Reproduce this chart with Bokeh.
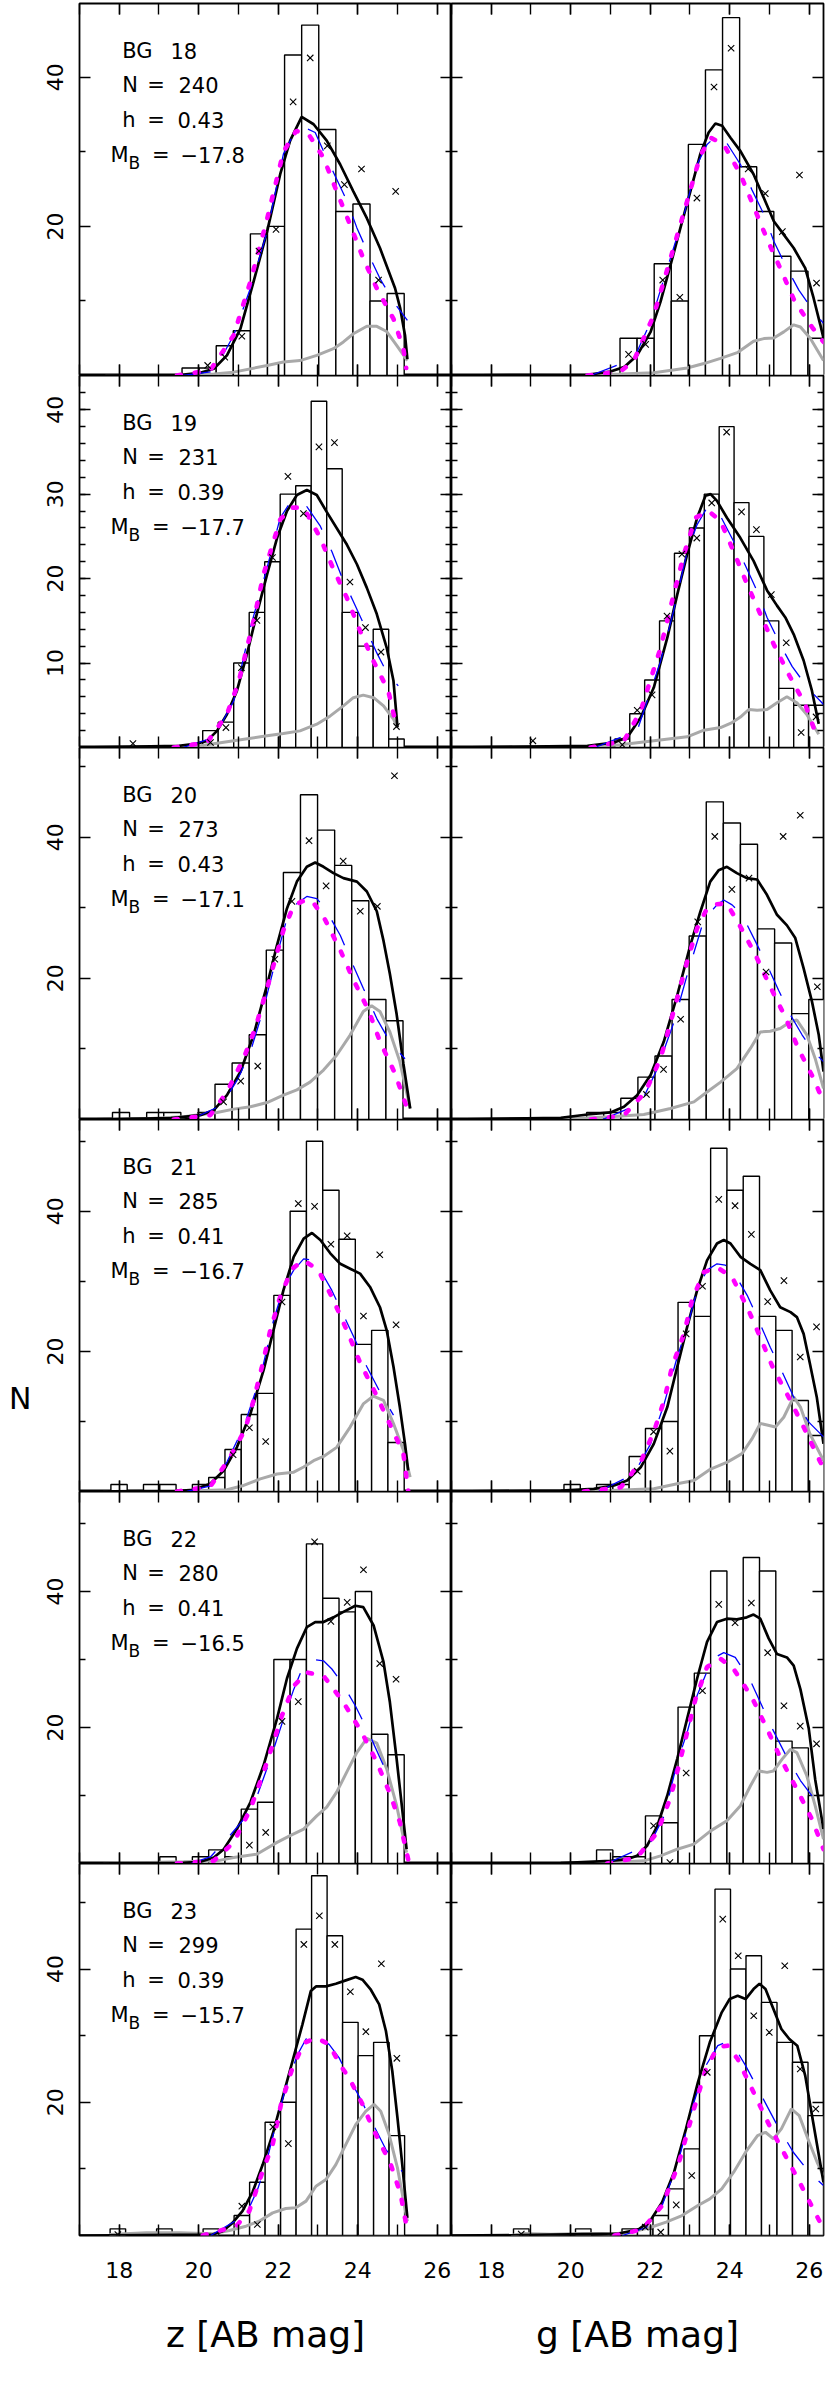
from bokeh.plotting import figure
from bokeh.layouts import column, row
from bokeh.models import Range1d, FixedTicker, LinearAxis, Label
from bokeh.embed import file_html
from bokeh.resources import INLINE

FONT = "DejaVu Sans"

# ---------------- data ----------------
galaxy = ["18", "19", "20", "21", "22", "23"]
n_obj = ["240", "231", "273", "285", "280", "299"]
h_bin = ["0.43", "0.39", "0.43", "0.41", "0.41", "0.39"]
mag_b = ["\u221217.8", "\u221217.7", "\u221217.1", "\u221216.7", "\u221216.5", "\u221215.7"]
y_max = [49.9, 44.05, 52.7, 53.1, 54.7, 55.85]
y_major = [[20, 40], [10, 20, 30, 40], [20, 40], [20, 40], [20, 40], [20, 40]]
y_minor = [[10, 30], list(range(2, 44, 2)), [10, 30, 50], [10, 30, 50], [10, 30, 50], [10, 30, 50]]
x_range = (17.0, 26.36)
x_major = [18, 20, 22, 24, 26]
x_minor = [17, 18, 19, 20, 21, 22, 23, 24, 25, 26]
x_titles = ["z [AB mag]", "g [AB mag]"]
y_title = "N"
y_title_pos = 13.3   # in counts of the 4th row

# ---- BG 18 ----
z18_start, z18_width = 19.58, 0.43
z18_counts = [1, 1, 4, 6, 19, 20, 43, 47, 33, 22, 23, 10, 11]
z18_cross = [None, 1.35, 2.47, 5.26, 16.7, 19.6, 36.7, 42.6, 30.8, 25.6, 27.7, 12.8, 24.7]
z18_total = [(17.0, 0), (19.5, 0.05), (20.04, 0.36), (20.38, 0.9), (20.71, 2.7), (21.05, 6.3), (21.38, 12.6), (21.72, 19.3), (22.05, 27.0), (22.3, 31.5), (22.59, 34.7), (22.89, 33.7), (23.22, 31.5), (23.56, 28.3), (23.89, 24.7), (24.23, 21.1), (24.56, 17.1), (24.94, 11.7), (25.07, 9.0), (25.19, 5.4), (25.25, 2.2)]
z18_model = [(19.6, 0), (20.38, 0.54), (20.88, 5.4), (21.3, 11.7), (21.72, 19.3), (22.13, 29.7), (22.39, 32.4), (22.65, 33.3), (22.93, 32.6), (23.14, 30.1), (23.43, 26.8), (23.73, 23.4), (23.98, 19.8), (24.27, 16.3), (24.56, 13.0), (24.94, 9.6), (25.25, 7.4)]
z18_fit = [(19.45, 0), (20.29, 0.7), (20.88, 5.4), (21.3, 12.6), (21.72, 21.0), (22.13, 30.0), (22.45, 32.8), (22.76, 32.4), (23.14, 29.2), (23.47, 24.7), (23.81, 20.2), (24.14, 15.7), (24.48, 11.7), (24.9, 7.6), (25.15, 3.6), (25.22, 1.0)]
z18_bg = [(17.65, 0), (19.7, 0), (20.38, 0.2), (20.88, 0.45), (21.72, 1.35), (22.13, 1.8), (22.55, 2.0), (22.97, 2.7), (23.39, 3.6), (23.64, 4.5), (23.89, 5.6), (24.23, 6.6), (24.48, 6.6), (24.73, 5.9), (24.98, 4.05), (25.25, 2.0)]

g18_start, g18_width = 21.24, 0.43
g18_counts = [5, 5, 15, 10, 31, 41, 48, 28, 22, 16, 14, 5]
g18_cross = [2.83, 4.18, 12.8, 10.5, 23.8, 38.7, 43.9, 27.7, 24.4, 19.3, 26.9, 12.4]
g18_total = [(17.0, 0), (20.42, 0.09), (21.0, 0.54), (21.34, 1.12), (21.67, 2.7), (22.01, 5.85), (22.26, 9.9), (22.51, 14.8), (22.76, 19.8), (23.01, 24.7), (23.26, 29.7), (23.47, 32.6), (23.64, 33.8), (23.81, 33.5), (24.02, 31.9), (24.27, 30.1), (24.6, 27.0), (24.86, 23.8), (25.11, 20.7), (25.36, 18.9), (25.61, 17.1), (25.9, 14.4), (26.11, 10.4), (26.28, 6.8), (26.36, 5.0)]
g18_model = [(20.5, 0), (21.59, 2.25), (22.01, 7.2), (22.43, 14.4), (22.85, 21.6), (23.18, 28.3), (23.43, 31.0), (23.68, 32.2), (23.89, 31.5), (24.27, 28.3), (24.56, 24.9), (24.86, 21.6), (25.11, 18.0), (25.4, 14.8), (25.74, 11.45), (26.15, 8.3), (26.36, 7.0)]
g18_fit = [(20.42, 0), (21.25, 0.54), (21.59, 2.0), (22.09, 8.1), (22.51, 15.7), (22.93, 23.4), (23.26, 29.5), (23.52, 31.9), (23.85, 31.0), (24.27, 27.0), (24.6, 22.7), (24.94, 18.3), (25.27, 14.4), (25.63, 10.0), (26.07, 6.5), (26.36, 4.5)]
g18_bg = [(18.7, 0), (20.42, 0.1), (21.25, 0.2), (22.09, 0.36), (22.93, 1.0), (23.35, 1.6), (23.77, 2.3), (24.19, 3.06), (24.6, 4.6), (24.86, 4.95), (25.11, 5.04), (25.36, 5.85), (25.61, 6.8), (25.78, 6.5), (26.03, 4.95), (26.36, 2.0)]

# ---- BG 19 ----
z19_start, z19_width = 18.15, 0.39
z19_counts = [0, 0, 0, 0, 0, 2, 3, 10, 16, 22, 30, 31, 41, 33, 16, 12, 14, 1]
z19_cross = [0.47, None, None, None, None, 0.59, 2.36, 9.46, 15.05, 22.5, 32.1, 27.7, 35.6, 36.1, 19.6, 14.2, 11.3, 2.48]
z19_total = [(17.0, 0), (19.5, 0.2), (19.96, 0.47), (20.21, 0.79), (20.46, 1.97), (20.71, 3.94), (20.96, 6.7), (21.21, 11.0), (21.46, 15.8), (21.72, 20.5), (21.97, 24.8), (22.22, 28.0), (22.47, 29.9), (22.72, 30.5), (22.97, 29.9), (23.22, 27.9), (23.47, 26.0), (23.73, 24.0), (23.98, 21.7), (24.23, 18.9), (24.48, 15.8), (24.73, 11.8), (24.9, 7.9), (25.0, 2.4)]
z19_model = [(19.6, 0), (20.38, 1.18), (20.88, 5.5), (21.3, 14.2), (21.72, 21.3), (22.05, 27.2), (22.3, 29.0), (22.55, 29.2), (22.68, 28.8), (23.06, 26.2), (23.35, 23.2), (23.6, 20.2), (23.89, 17.3), (24.19, 14.2), (24.48, 11.2), (24.73, 8.9), (25.02, 7.3)]
z19_fit = [(19.37, 0), (20.21, 0.59), (20.71, 3.94), (21.0, 7.7), (21.38, 15.0), (21.63, 20.5), (22.05, 27.0), (22.34, 28.4), (22.64, 28.4), (23.06, 24.8), (23.39, 21.1), (23.73, 17.7), (24.06, 13.8), (24.4, 10.2), (24.77, 6.7), (24.96, 2.8)]
z19_bg = [(17.49, 0), (19.37, 0.08), (20.04, 0.2), (20.88, 0.79), (21.72, 1.38), (22.13, 1.65), (22.55, 1.97), (22.97, 2.76), (23.31, 3.74), (23.64, 4.93), (23.89, 5.9), (24.14, 6.2), (24.4, 5.9), (24.65, 4.93), (24.9, 3.35), (25.0, 2.36)]

g19_start, g19_width = 18.86, 0.375
g19_counts = [0, 0, 0, 0, 0, 0, 1, 4, 8, 15, 23, 26, 30, 38, 29, 25, 15, 7, 5, 5]
g19_cross = [0.79, None, None, None, None, None, 0.32, 4.41, 6.23, 15.56, 22.9, 24.8, 28.96, 37.35, 27.9, 25.8, 18.1, 12.4, 1.77, 3.62]
g19_total = [(17.0, 0), (20.42, 0.2), (21.09, 0.59), (21.42, 1.18), (21.76, 3.55), (22.09, 7.1), (22.43, 13.0), (22.68, 18.1), (22.93, 22.9), (23.18, 27.2), (23.39, 29.8), (23.52, 30.0), (23.68, 29.2), (23.93, 27.2), (24.27, 24.8), (24.6, 22.1), (24.94, 18.6), (25.19, 16.8), (25.4, 15.4), (25.61, 13.4), (25.86, 10.3), (26.07, 6.7), (26.24, 2.8)]
g19_model = [(20.6, 0), (21.67, 1.97), (22.26, 10.2), (22.59, 16.2), (22.93, 23.2), (23.18, 26.4), (23.43, 28.4), (23.6, 28.4), (23.77, 27.4), (24.1, 24.4), (24.4, 21.5), (24.69, 18.5), (24.94, 15.4), (25.27, 12.2), (25.57, 9.6), (25.99, 6.9), (26.28, 5.5), (26.36, 5.1)]
g19_fit = [(20.5, 0), (21.34, 0.79), (21.76, 4.33), (22.26, 11.8), (22.59, 18.1), (22.85, 22.9), (23.14, 27.2), (23.47, 28.0), (23.77, 26.8), (24.1, 23.2), (24.44, 19.3), (24.77, 15.8), (25.11, 12.2), (25.48, 8.7), (25.9, 5.1), (26.2, 1.2)]
g19_bg = [(18.53, 0.08), (20.42, 0.08), (21.25, 0.32), (22.09, 0.79), (22.93, 1.26), (23.35, 2.05), (23.77, 2.36), (24.06, 2.96), (24.27, 3.6), (24.48, 4.5), (24.69, 4.4), (24.94, 4.5), (25.19, 5.3), (25.44, 6.0), (25.69, 5.3), (25.94, 3.9), (26.24, 1.58)]

# ---- BG 20 ----
z20_start, z20_width = 17.83, 0.43
z20_counts = [1, 0, 1, 1, 0, 1, 5, 8, 12, 24, 35, 46, 41, 36, 31, 17, 14]
z20_cross = [None, None, None, None, None, None, 2.5, 5.44, 7.57, 22.7, 30.9, 39.5, 33.1, 36.6, 29.5, 30.2, 48.7]
z20_total = [(17.0, 0), (19.3, 0.2), (19.62, 0.38), (20.04, 0.61), (20.38, 1.32), (20.71, 3.45), (21.05, 6.76), (21.38, 11.96), (21.72, 19.06), (21.97, 24.7), (22.22, 29.9), (22.47, 33.7), (22.72, 35.8), (22.93, 36.4), (23.14, 35.8), (23.39, 34.9), (23.64, 34.2), (23.98, 33.7), (24.23, 32.3), (24.48, 29.5), (24.65, 25.3), (24.81, 20.6), (24.98, 14.9), (25.15, 7.9), (25.32, 1.56)]
z20_model = [(19.8, 0), (20.57, 2.0), (20.99, 5.8), (21.3, 9.6), (21.63, 15.7), (21.97, 23.3), (22.22, 28.5), (22.47, 30.6), (22.72, 31.6), (22.97, 31.3), (23.18, 29.9), (23.56, 26.1), (23.81, 22.8), (24.14, 18.6), (24.48, 14.3), (24.81, 11.0), (25.19, 8.6)]
z20_fit = [(19.37, 0), (20.29, 0.61), (20.71, 3.9), (21.13, 8.65), (21.42, 12.9), (21.67, 17.6), (21.93, 22.8), (22.13, 26.8), (22.39, 30.3), (22.6, 30.9), (22.85, 31.0), (23.18, 28.3), (23.56, 24.0), (23.89, 19.8), (24.27, 15.5), (24.56, 11.06), (24.94, 6.5), (25.23, 1.8)]
z20_bg = [(17.6, 0), (18.78, 0.14), (19.62, 0.38), (20.46, 0.99), (20.88, 1.47), (21.3, 1.8), (21.72, 2.4), (22.13, 3.45), (22.47, 4.2), (22.8, 5.3), (23.14, 7.0), (23.47, 9.1), (23.81, 11.96), (24.14, 15.3), (24.35, 16.1), (24.56, 15.3), (24.81, 12.4), (25.06, 8.2), (25.32, 1.56)]

g20_start, g20_width = 20.40, 0.43
g20_counts = [1, 1, 3, 6, 9, 17, 26, 45, 42, 39, 27, 25, 15, 17]
g20_cross = [None, None, None, 3.55, 7.1, 14.2, 28.0, 40.1, 32.6, 34.2, 20.9, 40.1, 43.1, 18.8]
g20_total = [(17.0, 0), (19.75, 0.24), (20.42, 0.71), (21.0, 1.0), (21.34, 1.8), (21.67, 3.45), (22.01, 6.3), (22.34, 11.0), (22.68, 17.6), (23.01, 24.7), (23.26, 29.4), (23.51, 33.7), (23.72, 35.3), (23.93, 35.8), (24.18, 34.9), (24.43, 34.2), (24.69, 34.0), (24.94, 31.8), (25.19, 29.0), (25.44, 27.5), (25.65, 25.7), (25.86, 21.4), (26.07, 16.7), (26.24, 12.0), (26.36, 6.8)]
g20_model = [(20.8, 0), (21.76, 2.27), (22.18, 7.2), (22.6, 13.85), (22.93, 20.5), (23.35, 28.3), (23.68, 30.4), (23.85, 31.1), (24.06, 30.4), (24.31, 29.0), (24.65, 25.2), (24.94, 21.9), (25.23, 18.3), (25.53, 14.8), (25.82, 12.0), (26.11, 9.6), (26.36, 8.2)]
g20_fit = [(20.51, 0), (21.34, 0.6), (21.88, 3.9), (22.26, 8.65), (22.68, 17.2), (22.93, 22.4), (23.18, 27.1), (23.43, 29.9), (23.68, 30.5), (23.93, 30.6), (24.27, 27.3), (24.65, 23.3), (25.02, 18.8), (25.4, 14.5), (25.73, 10.0), (26.11, 5.8), (26.36, 2.5)]
g20_bg = [(18.6, 0), (19.75, 0.05), (21.0, 0.38), (21.84, 0.71), (22.51, 1.56), (23.1, 2.5), (23.43, 3.9), (23.77, 5.3), (24.18, 7.2), (24.52, 10.07), (24.77, 12.4), (25.02, 12.5), (25.27, 12.9), (25.53, 13.85), (25.69, 14.1), (25.94, 12.0), (26.15, 8.65), (26.36, 4.4)]

# ---- BG 21 ----
z21_start, z21_width = 17.79, 0.41
z21_counts = [1, 0, 1, 1, 0, 1, 2, 6, 11, 14, 28, 40, 50, 43, 36, 21, 23, 7]
z21_cross = [None, None, None, None, None, None, None, 5.24, 9.1, 7.14, 27.05, 41.1, 40.7, 35.3, 36.5, 25.05, 33.8, 23.8]
z21_total = [(17.0, 0), (19.5, 0.1), (19.87, 0.24), (20.29, 1.1), (20.63, 3.0), (20.96, 6.3), (21.3, 11.1), (21.63, 17.3), (21.88, 23.0), (22.13, 28.7), (22.39, 33.5), (22.64, 36.1), (22.85, 36.9), (23.06, 35.9), (23.31, 34.0), (23.56, 32.5), (23.81, 31.8), (24.06, 31.1), (24.31, 29.2), (24.56, 26.3), (24.73, 23.0), (24.9, 17.8), (25.06, 12.05), (25.19, 6.8), (25.27, 3.0)]
z21_model = [(19.7, 0), (20.3, 0.8), (20.71, 4.2), (21.13, 9.2), (21.55, 16.3), (21.88, 24.4), (22.13, 29.0), (22.39, 31.6), (22.64, 33.2), (22.89, 33.0), (23.06, 31.6), (23.35, 28.7), (23.64, 25.2), (23.94, 21.6), (24.23, 17.8), (24.56, 14.2), (24.9, 10.9)]
z21_fit = [(19.45, 0), (20.29, 0.71), (20.79, 4.9), (21.17, 8.9), (21.38, 13.0), (21.59, 17.8), (21.8, 23.0), (22.05, 27.8), (22.35, 31.8), (22.64, 33.0), (23.01, 31.6), (23.39, 27.3), (23.73, 22.95), (24.06, 18.4), (24.44, 14.1), (24.81, 9.6), (25.15, 5.4), (25.27, 0.1)]
z21_bg = [(17.6, 0), (18.78, 0), (19.62, 0.05), (20.71, 0.24), (21.13, 0.86), (21.55, 1.8), (21.97, 2.5), (22.39, 2.76), (22.64, 3.5), (22.89, 4.4), (23.14, 5.0), (23.47, 6.3), (23.81, 9.2), (24.14, 12.5), (24.39, 13.6), (24.65, 13.0), (24.9, 9.7), (25.15, 5.9), (25.32, 2.05)]

g21_start, g21_width = 19.83, 0.41
g21_counts = [1, 0, 1, 1, 5, 9, 10, 27, 25, 49, 43, 45, 25, 23, 13, 8]
g21_cross = [None, None, None, None, 2.9, 8.52, 5.76, 22.5, 29.3, 41.7, 40.8, 36.7, 27.1, 30.1, 19.2, 23.5]
g21_total = [(17.0, 0), (19.75, 0.14), (20.58, 0.38), (21.09, 0.86), (21.42, 1.57), (21.76, 3.45), (22.09, 6.8), (22.43, 12.05), (22.68, 17.8), (22.93, 23.5), (23.18, 28.7), (23.43, 33.0), (23.68, 35.4), (23.85, 35.9), (24.02, 35.4), (24.27, 33.5), (24.52, 32.5), (24.77, 31.6), (25.02, 28.7), (25.27, 26.3), (25.53, 25.6), (25.69, 24.9), (25.86, 22.5), (26.02, 18.2), (26.19, 13.5), (26.36, 6.8)]
g21_model = [(20.7, 0), (21.59, 2.5), (22.01, 6.8), (22.35, 12.5), (22.68, 19.2), (22.93, 23.5), (23.18, 28.7), (23.43, 31.6), (23.68, 32.5), (23.89, 32.3), (24.1, 31.3), (24.44, 28.0), (24.73, 24.4), (25.02, 20.6), (25.32, 17.05), (25.65, 13.0), (25.99, 9.9), (26.36, 7.8)]
g21_fit = [(20.33, 0), (21.26, 0.6), (21.76, 4.2), (22.09, 8.5), (22.35, 13.0), (22.55, 17.8), (22.85, 22.5), (23.05, 27.3), (23.35, 31.3), (23.68, 32.0), (24.06, 30.6), (24.44, 26.3), (24.77, 22.0), (25.1, 17.5), (25.48, 13.5), (25.86, 9.2), (26.28, 4.2), (26.36, 3.5)]
g21_bg = [(18.6, 0), (19.75, 0), (21.0, 0.14), (22.09, 0.38), (22.68, 1.1), (23.1, 1.57), (23.52, 3.2), (23.94, 4.2), (24.31, 5.4), (24.56, 7.5), (24.77, 9.7), (24.94, 9.5), (25.15, 9.2), (25.36, 10.6), (25.61, 13.5), (25.78, 12.05), (26.02, 8.2), (26.36, 4.4)]

# ---- BG 22 ----
z22_start, z22_width = 19.02, 0.41
z22_counts = [1, 0, 1, 2, 1, 8, 9, 30, 30, 47, 39, 37, 40, 19, 16]
z22_cross = [None, None, None, None, None, 2.7, 4.57, 20.9, 23.8, 47.3, 35.6, 38.4, 43.2, 29.4, 27.1]
z22_total = [(17.0, 0), (19.6, 0.1), (20.04, 0.25), (20.38, 0.88), (20.63, 2.1), (20.96, 5.06), (21.3, 9.0), (21.63, 14.4), (21.97, 21.3), (22.22, 27.2), (22.47, 31.6), (22.72, 34.75), (22.93, 35.5), (23.14, 35.5), (23.39, 36.2), (23.64, 37.0), (23.94, 37.9), (24.14, 37.7), (24.4, 35.0), (24.65, 29.6), (24.81, 23.7), (24.98, 15.35), (25.11, 8.5), (25.23, 2.1)]
z22_model = [(19.8, 0), (20.3, 1.0), (20.71, 3.6), (21.13, 6.5), (21.46, 9.8), (21.8, 15.3), (22.13, 21.2), (22.39, 25.6), (22.6, 28.6), (22.89, 30.0), (23.14, 29.8), (23.35, 28.6), (23.6, 26.6), (23.94, 23.2), (24.27, 19.3), (24.65, 14.4), (24.96, 12.2)]
z22_fit = [(19.45, 0), (20.38, 0.4), (20.88, 3.1), (21.3, 8.0), (21.63, 13.4), (21.88, 17.8), (22.09, 21.7), (22.39, 26.1), (22.72, 28.1), (23.14, 27.6), (23.64, 23.7), (24.1, 19.3), (24.48, 14.9), (24.81, 10.3), (25.06, 6.1), (25.27, 0.6)]
z22_bg = [(17.6, 0), (18.78, 0.15), (19.62, 0.25), (20.46, 0.39), (20.88, 0.88), (21.46, 1.37), (21.97, 3.1), (22.3, 4.1), (22.64, 5.06), (22.97, 7.0), (23.22, 8.3), (23.47, 10.5), (23.73, 13.5), (23.98, 16.35), (24.23, 18.4), (24.48, 17.7), (24.73, 13.9), (24.98, 8.5), (25.23, 1.6)]

g22_start, g22_width = 20.65, 0.41
g22_counts = [2, 1, 1, 7, 6, 23, 28, 43, 36, 45, 43, 18, 17, 10]
g22_cross = [None, None, None, 5.55, 0.15, 13.3, 25.4, 38.1, 35.4, 38.3, 31.0, 23.2, 20.2, 17.6]
g22_total = [(17.0, 0), (19.75, 0.05), (21.0, 0.39), (21.42, 0.64), (21.67, 1.13), (21.92, 2.6), (22.18, 5.55), (22.43, 10.0), (22.68, 15.4), (22.93, 21.3), (23.18, 27.2), (23.43, 32.6), (23.68, 35.5), (23.93, 36.0), (24.18, 35.9), (24.43, 36.2), (24.6, 36.6), (24.77, 36.0), (24.98, 33.1), (25.19, 30.8), (25.44, 30.3), (25.61, 29.1), (25.78, 25.6), (25.99, 19.8), (26.15, 12.4), (26.36, 5.06)]
g22_model = [(20.9, 0), (21.99, 2.85), (22.35, 7.0), (22.68, 14.9), (22.93, 19.3), (23.18, 24.7), (23.56, 30.1), (23.85, 31.0), (24.14, 30.3), (24.52, 26.9), (24.81, 23.2), (25.1, 19.5), (25.44, 15.6), (25.78, 12.2), (26.19, 9.0), (26.36, 7.75)]
g22_fit = [(20.92, 0), (21.67, 0.88), (22.18, 4.6), (22.51, 9.7), (22.72, 14.4), (22.93, 19.3), (23.14, 24.2), (23.43, 28.9), (23.77, 30.1), (24.1, 28.6), (24.56, 24.4), (24.94, 19.8), (25.27, 15.6), (25.69, 10.9), (26.07, 6.5), (26.36, 2.1)]
g22_bg = [(18.6, 0), (19.75, 0), (21.0, 0.15), (21.84, 0.39), (22.26, 1.13), (22.68, 2.1), (23.1, 2.85), (23.52, 4.8), (23.93, 6.3), (24.27, 8.5), (24.52, 11.4), (24.73, 13.6), (24.94, 13.4), (25.1, 13.6), (25.32, 15.35), (25.53, 16.8), (25.69, 16.3), (25.94, 12.9), (26.15, 8.5), (26.36, 3.6)]

# ---- BG 23 ----
z23_start, z23_width = 17.77, 0.39
z23_counts = [1, 0, 0, 1, 0, 0, 1, 0, 3, 8, 17, 20, 46, 54, 45, 32, 27, 29, 15]
z23_cross = [0.15, None, None, None, None, None, None, None, 4.4, 1.65, 16.3, 13.8, 43.7, 48.0, 43.7, 36.6, 30.6, 40.8, 26.6]
z23_total = [(17.0, 0), (20.35, 0.15), (20.6, 0.65), (20.85, 1.9), (21.1, 3.65), (21.36, 6.6), (21.61, 10.65), (21.86, 15.2), (22.11, 20.7), (22.36, 26.2), (22.61, 31.7), (22.82, 36.7), (22.95, 37.4), (23.2, 37.4), (23.45, 37.8), (23.7, 38.3), (23.95, 38.8), (24.12, 38.4), (24.33, 36.9), (24.54, 34.7), (24.71, 30.7), (24.87, 24.7), (25.0, 17.7), (25.12, 10.7), (25.25, 2.65)]
z23_model = [(20.3, 0), (21.19, 3.15), (21.48, 6.9), (21.69, 10.65), (21.94, 16.7), (22.19, 22.2), (22.49, 27.2), (22.7, 29.5), (22.9, 30.2), (23.28, 28.7), (23.53, 26.7), (23.78, 23.7), (24.08, 20.4), (24.37, 16.9), (24.71, 12.9), (25.12, 9.6)]
z23_fit = [(20.1, 0), (20.94, 1.4), (21.27, 3.65), (21.61, 9.66), (21.86, 13.65), (22.07, 19.7), (22.36, 25.2), (22.65, 28.9), (22.95, 29.7), (23.28, 28.7), (23.57, 25.5), (23.78, 23.7), (24.12, 19.7), (24.37, 16.2), (24.58, 13.7), (24.83, 10.7), (25.08, 6.2), (25.25, 0.65)]
z23_bg = [(17.75, 0.15), (18.68, 0.4), (19.51, 0.4), (20.35, 0.25), (20.77, 0.75), (21.19, 1.4), (21.52, 2.15), (21.86, 3.4), (22.19, 4.05), (22.44, 4.15), (22.7, 5.16), (22.95, 7.4), (23.2, 8.4), (23.45, 10.65), (23.7, 13.65), (23.95, 16.65), (24.2, 18.65), (24.41, 19.7), (24.58, 18.65), (24.79, 15.15), (25.0, 10.15), (25.25, 2.15)]

g23_start, g23_width = 18.56, 0.39
g23_counts = [1, 0, 0, 0, 1, 0, 0, 1, 1, 3, 7, 13, 30, 52, 40, 42, 35, 29, 26, 18]
g23_cross = [0.2, None, None, None, None, None, None, None, 1.25, 0.5, 4.6, 9.0, 24.5, 47.5, 42.0, 33.0, 30.5, 40.5, 25.0, 19.0]
g23_total = [(17.0, 0), (18.75, 0.05), (21.2, 0.3), (21.7, 0.9), (22.0, 2.2), (22.3, 5.0), (22.6, 9.5), (22.9, 16.0), (23.2, 23.0), (23.5, 29.0), (23.8, 33.5), (24.0, 35.5), (24.2, 36.0), (24.4, 35.5), (24.6, 37.0), (24.75, 37.8), (24.9, 37.0), (25.1, 34.0), (25.3, 31.0), (25.5, 29.5), (25.7, 28.5), (25.9, 24.0), (26.1, 17.0), (26.36, 8.0)]
g23_model = [(21.3, 0), (21.9, 1.2), (22.3, 4.5), (22.7, 11.0), (23.1, 20.0), (23.4, 25.5), (23.7, 28.5), (23.9, 29.0), (24.1, 28.5), (24.4, 25.5), (24.8, 21.0), (25.2, 16.5), (25.6, 12.5), (26.0, 9.5), (26.36, 7.5)]
g23_fit = [(21.1, 0), (21.8, 0.9), (22.3, 4.5), (22.7, 10.5), (23.1, 19.0), (23.4, 25.0), (23.7, 28.3), (23.95, 28.5), (24.2, 26.5), (24.6, 21.5), (25.0, 16.5), (25.4, 12.0), (25.8, 7.5), (26.1, 4.0), (26.36, 1.0)]
g23_bg = [(18.5, 0), (18.8, 0.3), (19.5, 0.2), (20.3, 0.3), (21.0, 0.2), (21.5, 0.5), (22.0, 1.2), (22.4, 2.0), (22.8, 3.0), (23.2, 4.5), (23.5, 5.5), (23.8, 7.0), (24.1, 9.5), (24.4, 12.5), (24.7, 15.0), (24.9, 15.5), (25.1, 14.5), (25.3, 16.0), (25.55, 19.0), (25.75, 18.0), (26.0, 14.0), (26.2, 11.0), (26.36, 9.0)]

panels = [
    [(z18_start, z18_width, z18_counts, z18_cross, z18_total, z18_model, z18_fit, z18_bg),
     (g18_start, g18_width, g18_counts, g18_cross, g18_total, g18_model, g18_fit, g18_bg)],
    [(z19_start, z19_width, z19_counts, z19_cross, z19_total, z19_model, z19_fit, z19_bg),
     (g19_start, g19_width, g19_counts, g19_cross, g19_total, g19_model, g19_fit, g19_bg)],
    [(z20_start, z20_width, z20_counts, z20_cross, z20_total, z20_model, z20_fit, z20_bg),
     (g20_start, g20_width, g20_counts, g20_cross, g20_total, g20_model, g20_fit, g20_bg)],
    [(z21_start, z21_width, z21_counts, z21_cross, z21_total, z21_model, z21_fit, z21_bg),
     (g21_start, g21_width, g21_counts, g21_cross, g21_total, g21_model, g21_fit, g21_bg)],
    [(z22_start, z22_width, z22_counts, z22_cross, z22_total, z22_model, z22_fit, z22_bg),
     (g22_start, g22_width, g22_counts, g22_cross, g22_total, g22_model, g22_fit, g22_bg)],
    [(z23_start, z23_width, z23_counts, z23_cross, z23_total, z23_model, z23_fit, z23_bg),
     (g23_start, g23_width, g23_counts, g23_cross, g23_total, g23_model, g23_fit, g23_bg)],
]

# ---------------- layout constants ----------------
FW, FH = 372, 372
LEFT_BORDER = 79
TOP_BORDER = 3
BOTTOM_BORDER = 140


def style_axis(ax, show_labels, tick_len, minor_len):
    ax.axis_line_color = None
    ax.major_tick_in = tick_len
    ax.major_tick_out = 0
    ax.minor_tick_in = minor_len
    ax.minor_tick_out = 0
    ax.major_tick_line_color = "black"
    ax.minor_tick_line_color = "black"
    ax.major_tick_line_width = 1.4
    ax.minor_tick_line_width = 1.4
    if show_labels:
        ax.major_label_text_font = FONT
        ax.major_label_text_font_size = "22px"
        ax.major_label_text_color = "black"
    else:
        ax.major_label_text_font_size = "0px"
        ax.major_label_text_color = None
        ax.major_label_standoff = 0


def make_panel(r, c):
    start, width, counts, cross, total, model, fit, bg = panels[r][c]
    left = c == 0
    last = r == 5
    p = figure(frame_width=FW, frame_height=FH,
               x_range=Range1d(*x_range), y_range=Range1d(0, y_max[r]),
               x_axis_location=None, y_axis_location=None,
               min_border_left=LEFT_BORDER if left else 0,
               min_border_right=0 if left else 4,
               min_border_top=TOP_BORDER if r == 0 else 0,
               min_border_bottom=BOTTOM_BORDER if last else 0,
               output_backend="svg", toolbar_location=None,
               background_fill_color="white", border_fill_color="white")
    p.xgrid.grid_line_color = None
    p.ygrid.grid_line_color = None
    p.outline_line_color = "black"
    p.outline_line_width = 1.8

    # axes on all four sides, ticks inside
    for loc in ("below", "above"):
        ax = LinearAxis(ticker=FixedTicker(ticks=x_major, minor_ticks=x_minor))
        show = (loc == "below" and last)
        style_axis(ax, show, 11, 11)
        if show:
            ax.major_label_standoff = 26
            ax.axis_label = x_titles[c]
            ax.axis_label_text_font = FONT
            ax.axis_label_text_font_size = "36px"
            ax.axis_label_text_font_style = "normal"
            ax.axis_label_text_color = "black"
            ax.axis_label_standoff = 33
        p.add_layout(ax, loc)
    for loc in ("left", "right"):
        ay = LinearAxis(ticker=FixedTicker(ticks=y_major[r], minor_ticks=y_minor[r]))
        show = (loc == "left" and left)
        style_axis(ay, show, 11, 6)
        if show:
            ay.major_label_orientation = "vertical"
            ay.major_label_standoff = 16
        p.add_layout(ay, loc)
    if left and r == 3:
        # the shared "N" title, drawn as the single label of an extra outer axis
        an = LinearAxis(ticker=FixedTicker(ticks=[y_title_pos], minor_ticks=[]),
                        major_label_overrides={y_title_pos: y_title})
        an.axis_line_color = None
        an.major_tick_in = 0
        an.major_tick_out = 0
        an.minor_tick_in = 0
        an.minor_tick_out = 0
        an.major_label_text_font = FONT
        an.major_label_text_font_size = "30px"
        an.major_label_text_color = "black"
        an.major_label_orientation = "horizontal"
        an.major_label_standoff = 13
        p.add_layout(an, "left")

    # histogram
    lefts, rights, tops = [], [], []
    for i, n in enumerate(counts):
        if n > 0:
            lefts.append(start + i * width)
            rights.append(start + (i + 1) * width)
            tops.append(n)
    p.quad(left=lefts, right=rights, bottom=0, top=tops,
           fill_color="white", line_color="black", line_width=1.4)

    # curves
    p.line([q[0] for q in bg], [q[1] for q in bg], line_color="#a9a9a9", line_width=3.0)
    p.line([q[0] for q in total], [q[1] for q in total], line_color="black", line_width=2.7)
    p.line([q[0] for q in model], [q[1] for q in model], line_color="#0000ff",
           line_width=1.3, line_dash="28 22")
    p.line([q[0] for q in fit], [q[1] for q in fit], line_color="#ff00ff",
           line_width=4.6, line_dash="4 14", line_cap="round")

    # crosses
    cx = [start + (i + 0.5) * width for i, v in enumerate(cross) if v is not None]
    cy = [v for v in cross if v is not None]
    p.scatter(cx, cy, marker="x", size=9, line_color="black", line_width=1.1)

    if left:
        def lab(txt, x, top_off, size="21px"):
            p.add_layout(Label(x=x, y=FH - top_off, x_units="screen", y_units="screen",
                               text=txt, text_font=FONT, text_font_size=size,
                               text_baseline="alphabetic", text_align="left",
                               text_color="black"))
        lab("BG", 42.7, 47)
        lab(galaxy[r], 91, 47)
        lab("N", 42.7, 81.5)
        lab("=", 67.7, 81.5)
        lab(n_obj[r], 99, 81.5)
        lab("h", 42.7, 116)
        lab("=", 67.7, 116)
        lab(h_bin[r], 98, 116)
        lab("M", 31, 151.5)
        lab("B", 49, 159.5, "17px")
        lab("=", 72.5, 151.5)
        lab(mag_b[r], 101, 151.5)
    return p


rows = []
for r in range(6):
    rows.append(row(make_panel(r, 0), make_panel(r, 1)))
layout = column(*rows)

open("out.html", "w").write(file_html(layout, INLINE))
